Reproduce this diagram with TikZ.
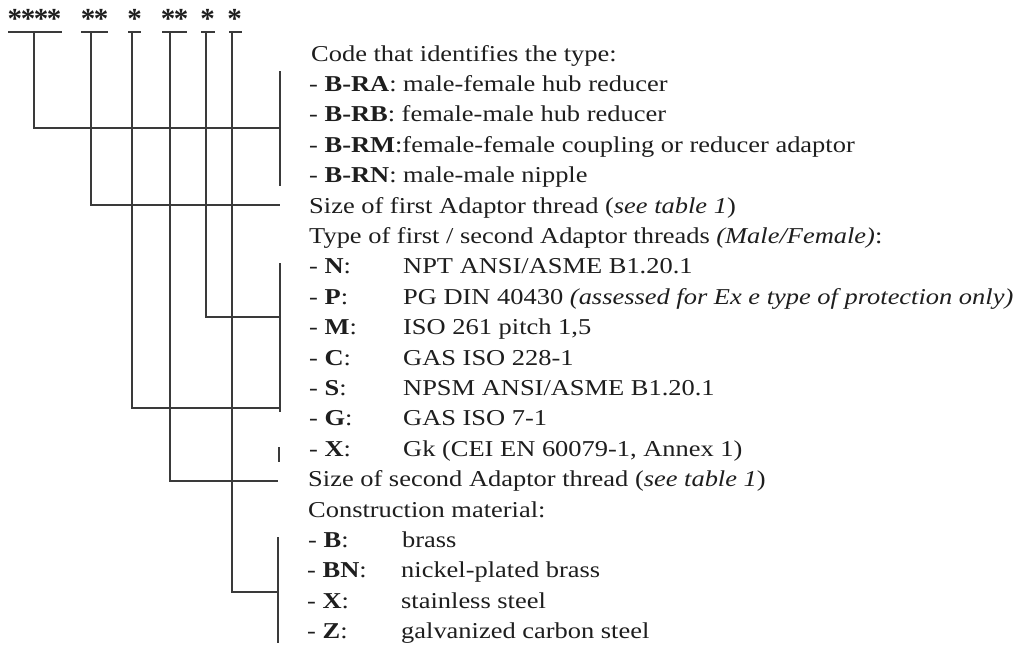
\documentclass[tikz,border=0pt]{standalone}
\usepackage{fontspec}
\setmainfont{Liberation Serif}[FakeStretch=1.165]
\newfontfamily\starfont{Liberation Serif}
\definecolor{ink}{HTML}{1E1E1E}
\definecolor{wire}{HTML}{3A3A3A}
\newcommand{\lbl}[1]{\makebox[94pt][l]{- \textbf{#1}:}}
\newcommand{\st}{\makebox[13pt][c]{\bfseries *}}
\begin{document}
\begin{tikzpicture}[x=1pt,y=-1pt,
  txt/.style={anchor=base west,inner sep=0pt,text=ink,font=\fontsize{22.7}{30}\selectfont},
  star/.style={anchor=base,inner sep=0pt,text=ink,font=\fontsize{29}{29}\starfont},
  wireline/.style={draw=wire,line width=1.7pt},
  uline/.style={draw=wire,line width=1.5pt}]
\useasboundingbox[fill=white] (0,0) rectangle (1022,651);
% asterisk fields
\node[star] (a1) at (34.5,28.5) {\st\st\st\st};
\node[star] (a2) at (94.5,28.5) {\st\st};
\node[star] (a3) at (134.5,28.5) {\st};
\node[star] (a4) at (174.5,28.5) {\st\st};
\node[star] (a5) at (207.5,28.5) {\st};
\node[star] (a6) at (234.5,28.5) {\st};
% underlines
\coordinate (u1a) at (8,32);   \coordinate (u1b) at (62,32);
\coordinate (u2a) at (81,32);  \coordinate (u2b) at (108,32);
\coordinate (u3a) at (128,32); \coordinate (u3b) at (141,32);
\coordinate (u4a) at (162,32); \coordinate (u4b) at (187,32);
\coordinate (u5a) at (201,32); \coordinate (u5b) at (215,32);
\coordinate (u6a) at (229,32); \coordinate (u6b) at (242,32);
\foreach \i in {1,...,6} {\draw[uline] (u\i a) -- (u\i b);}
% stem tops
\coordinate (t1) at (34,32);
\coordinate (t2) at (91,32);
\coordinate (t3) at (132,32);
\coordinate (t4) at (170,32);
\coordinate (t5) at (206,32);
\coordinate (t6) at (232,32);
% junctions on the brackets
\coordinate (j1) at (280,128);
\coordinate (j2) at (280,205);
\coordinate (j3) at (280,408);
\coordinate (j4) at (278,481);
\coordinate (j5) at (280,317);
\coordinate (j6) at (278,592);
% bracket ends
\coordinate (k1a) at (280,71);  \coordinate (k1b) at (280,186);
\coordinate (k2a) at (280,263); \coordinate (k2b) at (280,412);
\coordinate (k2c) at (279,447); \coordinate (k2d) at (279,462);
\coordinate (k3a) at (278,537); \coordinate (k3b) at (278,643);
% connectors
\draw[wireline] (t1) |- (j1);
\draw[wireline] (t2) |- (j2);
\draw[wireline] (t3) |- (j3);
\draw[wireline] (t4) |- (j4);
\draw[wireline] (t5) |- (j5);
\draw[wireline] (t6) |- (j6);
\draw[wireline] (k1a) -- (k1b);
\draw[wireline] (k2a) -- (k2b);
\draw[wireline] (k2c) -- (k2d);
\draw[wireline] (k3a) -- (k3b);
% texts
\node[txt] (l0)  at (311,61)    {Code that identifies the type:};
\node[txt] (l1)  at (309,91.4)  {- \textbf{B-RA}: male-female hub reducer};
\node[txt] (l2)  at (309,121.8) {- \textbf{B-RB}: female-male hub reducer};
\node[txt] (l3)  at (309,152.2) {- \textbf{B-RM}:female-female coupling or reducer adaptor};
\node[txt] (l4)  at (309,182.6) {- \textbf{B-RN}: male-male nipple};
\node[txt] (l5)  at (309,213)   {Size of first Adaptor thread (\textit{see table 1})};
\node[txt] (l6)  at (309,243.4) {Type of first / second Adaptor threads \textit{(Male/Female)}:};
\node[txt] (l7)  at (309,273.8) {\lbl{N}NPT ANSI/ASME B1.20.1};
\node[txt] (l8)  at (309,304.2) {\lbl{P}PG DIN 40430 \textit{(assessed for Ex e type of protection only)}};
\node[txt] (l9)  at (309,334.6) {\lbl{M}ISO 261 pitch 1,5};
\node[txt] (l10) at (309,365)   {\lbl{C}GAS ISO 228-1};
\node[txt] (l11) at (309,395.4) {\lbl{S}NPSM ANSI/ASME B1.20.1};
\node[txt] (l12) at (309,425.8) {\lbl{G}GAS ISO 7-1};
\node[txt] (l13) at (309,456.2) {\lbl{X}Gk (CEI EN 60079-1, Annex 1)};
\node[txt] (l14) at (308,486.6) {Size of second Adaptor thread (\textit{see table 1})};
\node[txt] (l15) at (308,517)   {Construction material:};
\node[txt] (l16) at (308,547.4) {\lbl{B}brass};
\node[txt] (l17) at (307,577.8) {\lbl{BN}nickel-plated brass};
\node[txt] (l18) at (307,608.2) {\lbl{X}stainless steel};
\node[txt] (l19) at (307,638.6) {\lbl{Z}galvanized carbon steel};
\end{tikzpicture}
\end{document}
